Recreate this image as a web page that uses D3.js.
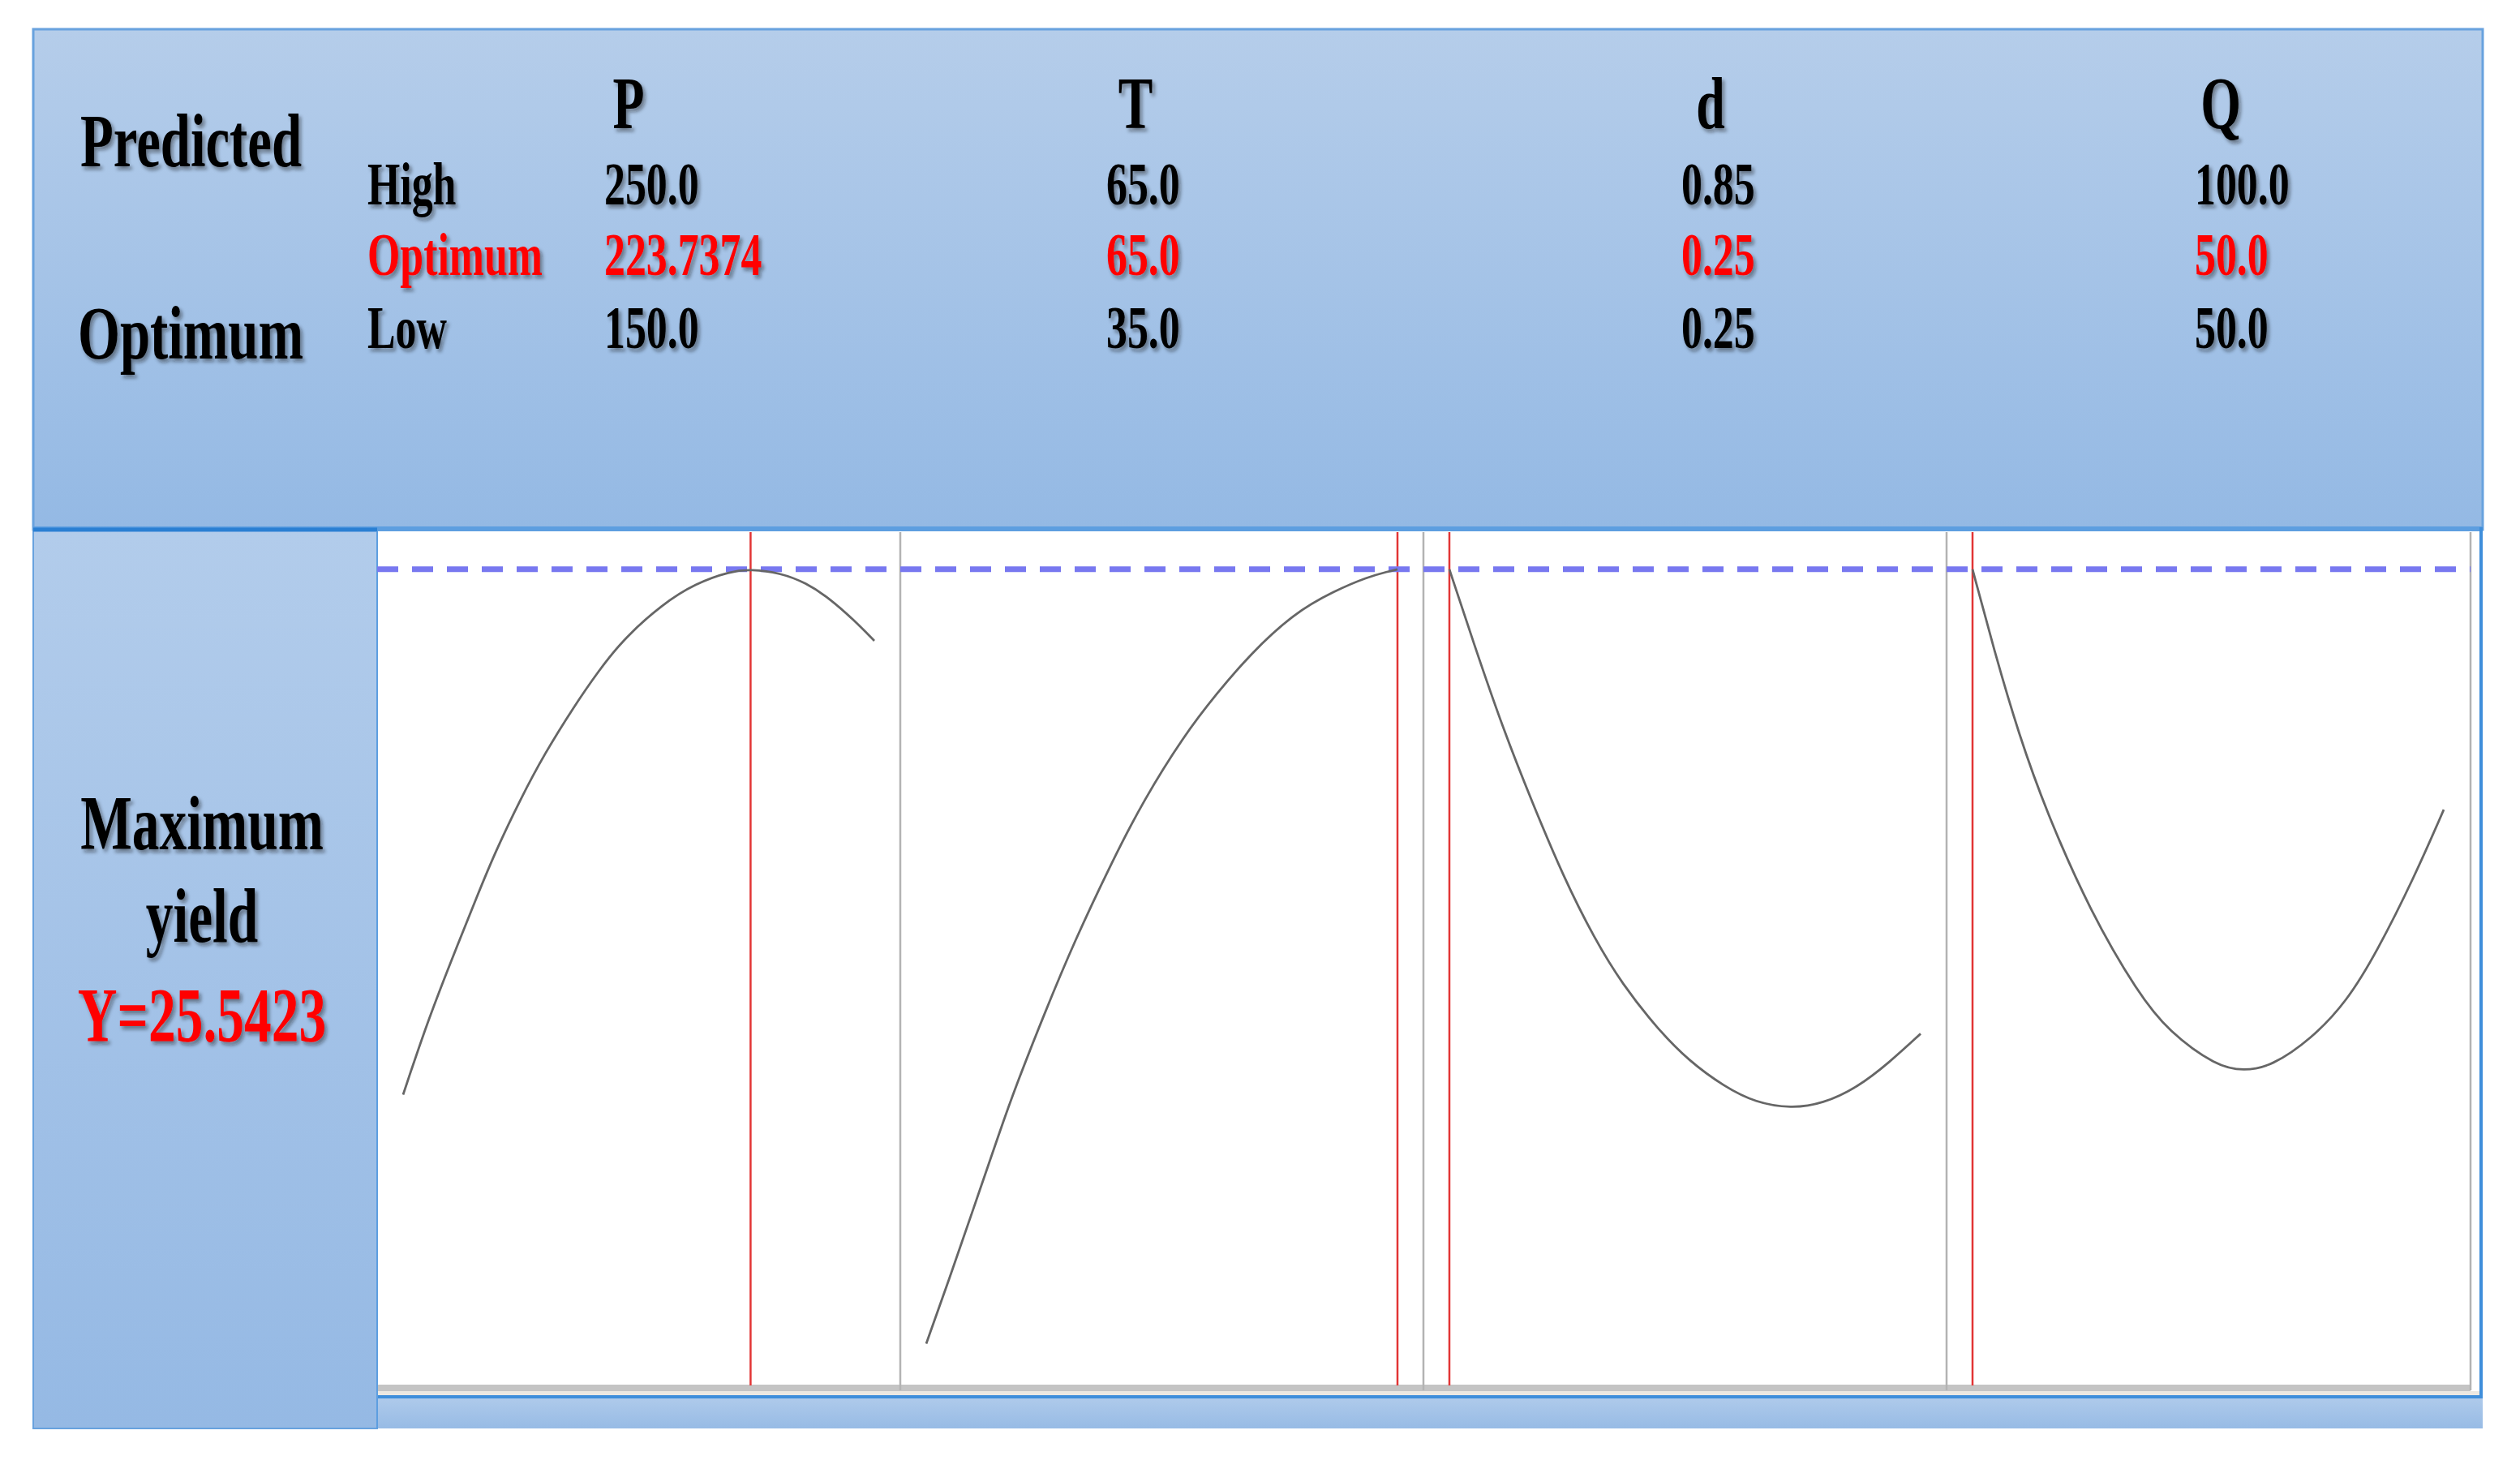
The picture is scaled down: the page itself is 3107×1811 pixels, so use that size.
<!DOCTYPE html>
<html>
<head>
<meta charset="utf-8">
<script src="https://cdn.jsdelivr.net/npm/d3@7"></script>
<style>
  html, body { margin: 0; padding: 0; background: #ffffff; }
  svg { display: block; }
</style>
</head>
<body>
<div id="chart"></div>
<script>
// ---------------- DATA ----------------
const factors   = ["P", "T", "d", "Q"];
const highVals  = ["250.0", "65.0", "0.85", "100.0"];
const optVals   = ["223.7374", "65.0", "0.25", "50.0"];
const lowVals   = ["150.0", "35.0", "0.25", "50.0"];
const lowNum    = [150, 35, 0.25, 50];
const highNum   = [250, 65, 0.85, 100];
const optNum    = [223.7374, 65, 0.25, 50];
const maxYield  = 25.5423;
const rowLabels = ["High", "Optimum", "Low"];

// response traces (factor value, predicted yield)
const pX = [150, 155, 160, 166, 169.5, 175, 180, 186, 191.5, 197, 205, 212, 219.5, 223.74, 230, 235.5, 240.5, 245.5, 250];
const pY = [9.15, 11.35, 13.25, 15.45, 16.7, 18.4, 19.78, 21.2, 22.38, 23.4, 24.45, 25.1, 25.48, 25.54, 25.43, 25.12, 24.63, 23.98, 23.31];

const tX = [35, 36.5, 37.9, 39.7, 40.7, 42.5, 44.4, 46.9, 48.8, 51.4, 53.5, 55.6, 58.4, 61, 63.1, 64.4, 65];
const tY = [1.38, 3.45, 5.44, 8.03, 9.41, 11.65, 13.9, 16.49, 18.3, 20.35, 21.67, 22.88, 24.17, 24.87, 25.3, 25.47, 25.54];

const dX = [0.25, 0.28, 0.32, 0.355, 0.395, 0.435, 0.47, 0.515, 0.555, 0.6, 0.64, 0.685, 0.725, 0.77, 0.81, 0.85];
const dY = [25.54, 23.3, 20.45, 18.3, 15.95, 14.0, 12.6, 11.2, 10.2, 9.4, 8.9, 8.72, 8.86, 9.38, 10.15, 11.05];

const qX = [50, 52.35, 54.9, 57.8, 62.5, 67.6, 70.8, 75.9, 78.8, 81.7, 86, 89.7, 92.9, 96.9, 100];
const qY = [25.54, 22.95, 20.4, 18.0, 14.85, 12.3, 11.12, 10.03, 9.89, 10.03, 10.9, 12.05, 13.6, 15.95, 18.04];

const traceX = [pX, tX, dX, qX];
const traceY = [pY, tY, dY, qY];

// ---------------- LAYOUT ----------------
const W = 3107, H = 1811;
const outerL = 41, outerR = 3061, outerT = 36, outerB = 1761;
const headerB = 653;
const plotL = 465, plotT = 656, plotB = 1711;
const panelW = 645, padL = 32, padR = 32;
const SX = 0.71; // horizontal squeeze of the condensed bold serif

const svg = d3.select("#chart").append("svg")
  .attr("width", W).attr("height", H)
  .attr("viewBox", `0 0 ${W} ${H}`);

const defs = svg.append("defs");
function vgrad(id, c0, c1) {
  const g = defs.append("linearGradient").attr("id", id)
    .attr("x1", 0).attr("y1", 0).attr("x2", 0).attr("y2", 1);
  g.append("stop").attr("offset", "0%").attr("stop-color", c0);
  g.append("stop").attr("offset", "100%").attr("stop-color", c1);
}
vgrad("hdrGrad", "#b5cdea", "#94b9e4");
vgrad("sideGrad", "#b2cceb", "#95b9e4");
vgrad("stripGrad", "#b0cbeb", "#97bbe5");

const filt = defs.append("filter").attr("id", "shadow")
  .attr("x", "-10%").attr("y", "-20%").attr("width", "130%").attr("height", "150%");
filt.append("feDropShadow").attr("dx", 3).attr("dy", 4).attr("stdDeviation", 2.2)
  .attr("flood-color", "#1a1a1a").attr("flood-opacity", 0.45);

// header box
svg.append("rect").attr("x", outerL).attr("y", outerT)
  .attr("width", outerR - outerL).attr("height", headerB - outerT)
  .attr("fill", "url(#hdrGrad)").attr("stroke", "#68a2de").attr("stroke-width", 3);

// side panel
svg.append("rect").attr("x", outerL).attr("y", headerB)
  .attr("width", plotL - outerL).attr("height", outerB - headerB)
  .attr("fill", "url(#sideGrad)").attr("stroke", "#68a2de").attr("stroke-width", 2);

// plot background
svg.append("rect").attr("x", plotL).attr("y", plotT)
  .attr("width", 3059 - plotL).attr("height", 1720 - plotT).attr("fill", "#ffffff");

// bottom gray bar + strip
svg.append("rect").attr("x", plotL).attr("y", 1707).attr("width", 3046 - plotL).attr("height", 8).attr("fill", "#c4c4c4");
svg.append("rect").attr("x", plotL).attr("y", 1715).attr("width", 3059 - plotL).attr("height", 6).attr("fill", "#ece8e2");
svg.append("rect").attr("x", plotL).attr("y", 1721).attr("width", outerR - plotL).attr("height", outerB - 1721)
  .attr("fill", "url(#stripGrad)");
svg.append("line").attr("x1", plotL).attr("x2", outerR).attr("y1", 1722).attr("y2", 1722)
  .attr("stroke", "#3f8edb").attr("stroke-width", 4);

// header bottom lines
svg.append("line").attr("x1", outerL).attr("x2", outerR).attr("y1", 652).attr("y2", 652)
  .attr("stroke", "#5d9ee0").attr("stroke-width", 6);
svg.append("line").attr("x1", outerL).attr("x2", plotL).attr("y1", 653).attr("y2", 653)
  .attr("stroke", "#2a7fd3").attr("stroke-width", 5);

// side panel right border & plot right border
svg.append("line").attr("x1", plotL).attr("x2", plotL).attr("y1", 655).attr("y2", outerB)
  .attr("stroke", "#5d9ee0").attr("stroke-width", 2);
svg.append("line").attr("x1", 3059).attr("x2", 3059).attr("y1", 650).attr("y2", 1722)
  .attr("stroke", "#3f8edb").attr("stroke-width", 4);

// ---------------- SCALES ----------------
const y = d3.scaleLinear().domain([0, 26.7]).range([plotB, plotT]);
const xScales = factors.map((f, i) => {
  const left = plotL + i * panelW;
  return d3.scaleLinear().domain([lowNum[i], highNum[i]])
    .range([left + padL, left + panelW - padR]);
});

// panel dividers
const plotG = svg.append("g");
factors.forEach((f, i) => {
  const right = plotL + (i + 1) * panelW + (i === 3 ? 1 : 0);
  plotG.append("line").attr("x1", right).attr("x2", right)
    .attr("y1", plotT).attr("y2", 1714)
    .attr("stroke", "#b3b3b3").attr("stroke-width", 2.5);
});

// optimum red lines
factors.forEach((f, i) => {
  const xo = xScales[i](optNum[i]);
  plotG.append("line").attr("x1", xo).attr("x2", xo)
    .attr("y1", plotT).attr("y2", 1708)
    .attr("stroke", "#e23535").attr("stroke-width", 2.5);
});

// dashed max-yield line
plotG.append("line").attr("x1", plotL).attr("x2", 3046)
  .attr("y1", y(maxYield)).attr("y2", y(maxYield))
  .attr("stroke", "#7878f0").attr("stroke-width", 7)
  .attr("stroke-dasharray", "26 17");

// response curves
const line = d3.line().curve(d3.curveBasis);
factors.forEach((f, i) => {
  const pts = traceX[i].map((v, k) => [xScales[i](v), y(traceY[i][k])]);
  plotG.append("path").attr("d", line(pts))
    .attr("fill", "none").attr("stroke", "#666666").attr("stroke-width", 2.8);
});

// ---------------- TEXT ----------------
const textG = svg.append("g").attr("filter", "url(#shadow)");
function addText(x, yb, str, size, color, anchor) {
  textG.append("text")
    .attr("transform", `translate(${x},${yb}) scale(${SX},1)`)
    .attr("text-anchor", anchor || "start")
    .attr("font-family", "'Liberation Serif', 'Times New Roman', serif")
    .attr("font-weight", "bold")
    .attr("font-size", size)
    .attr("fill", color || "#000")
    .text(str);
}

addText(99, 205, "Predicted", 94);
addText(96, 442, "Optimum", 94);

const headCx = [775, 1400, 2109, 2738];
const valX   = [745, 1364, 2073, 2706];
const rowY   = [252, 339, 429];
factors.forEach((f, i) => addText(headCx[i], 158, f, 90, "#000", "middle"));
rowLabels.forEach((r, k) => addText(453, rowY[k], r, 73, k === 1 ? "#ff0000" : "#000"));
factors.forEach((f, i) => {
  addText(valX[i], rowY[0], highVals[i], 73, "#000");
  addText(valX[i], rowY[1], optVals[i], 73, "#ff0000");
  addText(valX[i], rowY[2], lowVals[i], 73, "#000");
});

addText(249, 1047, "Maximum", 95, "#000", "middle");
addText(249, 1161, "yield", 95, "#000", "middle");
addText(249, 1284, "Y=" + maxYield, 95, "#ff0000", "middle");
</script>
</body>
</html>
